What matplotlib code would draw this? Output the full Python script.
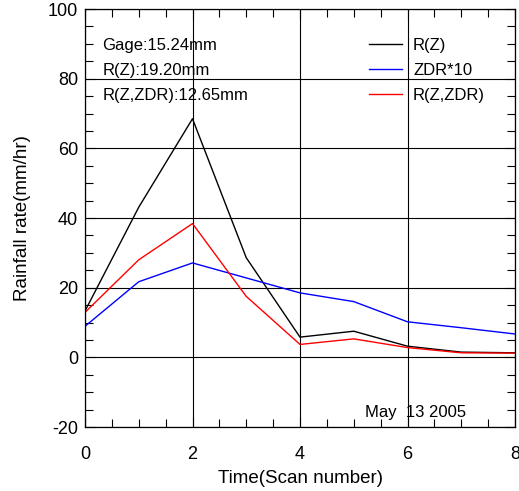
import numpy as np
import matplotlib.pyplot as plt

plt.rcParams['font.family'] = ['Liberation Sans', 'DejaVu Sans']
plt.rcParams['axes.unicode_minus'] = False

scan = [0, 1, 2, 3, 4, 5, 6, 7, 8]
r_z = [13.3, 43.1, 68.5, 28.6, 5.8, 7.5, 3.2, 1.5, 1.3]
zdr10 = [8.9, 21.7, 27.1, 22.8, 18.5, 16.0, 10.2, 8.5, 6.7]
r_zzdr = [12.9, 28.0, 38.4, 17.5, 3.7, 5.3, 2.8, 1.3, 1.2]

series = [('R(Z)', r_z, 'black'), ('ZDR*10', zdr10, 'blue'), ('R(Z,ZDR)', r_zzdr, 'red')]
summary = ['Gage:15.24mm', 'R(Z):19.20mm', 'R(Z,ZDR):12.65mm']
date_label = 'May  13 2005'

fig = plt.figure(figsize=(5.19, 4.91), dpi=100)
ax = fig.add_axes([85/519, 1-427/491, 430/519, 418/491])

for name, vals, c in series:
    ax.plot(scan, vals, color=c, lw=1.0)

ax.set_xlim(0, 8)
ax.set_ylim(-20, 100)
ax.set_xticks(np.arange(0, 9, 2))
ax.set_xticks(np.arange(0, 8.01, 0.5), minor=True)
ax.set_yticks(np.arange(-20, 101, 20))
ax.set_yticks(np.arange(-20, 100.1, 5), minor=True)
ax.grid(True, which='major', color='black', lw=0.8)
ax.tick_params(which='both', direction='in', top=True, right=True, color='black')
ax.tick_params(which='major', length=7, width=0.8, labelsize=13)
ax.tick_params(which='minor', length=6, width=0.8)
ax.tick_params(axis='x', which='major', pad=14)
ax.tick_params(axis='y', which='major', pad=5)
for s in ax.spines.values():
    s.set_linewidth(0.9)

ax.set_xlabel('Time(Scan number)', fontsize=13.5, labelpad=5)
ax.set_ylabel('Rainfall rate(mm/hr)', fontsize=13.5, labelpad=12)

rows = [0.913, 0.853, 0.794]
for t, y in zip(summary, rows):
    ax.text(0.04, y, t, transform=ax.transAxes, fontsize=12, va='center')

# legend drawn by hand, lines then labels
for (name, vals, c), y in zip(series, rows):
    ax.plot([0.660, 0.737], [y + 0.003, y + 0.003], transform=ax.transAxes, color=c, lw=1.0)
    ax.text(0.763, y, name, transform=ax.transAxes, fontsize=12, va='center')

ax.text(0.651, 0.035, date_label, transform=ax.transAxes, fontsize=12, va='center')

fig.savefig('out.png', dpi=100)
